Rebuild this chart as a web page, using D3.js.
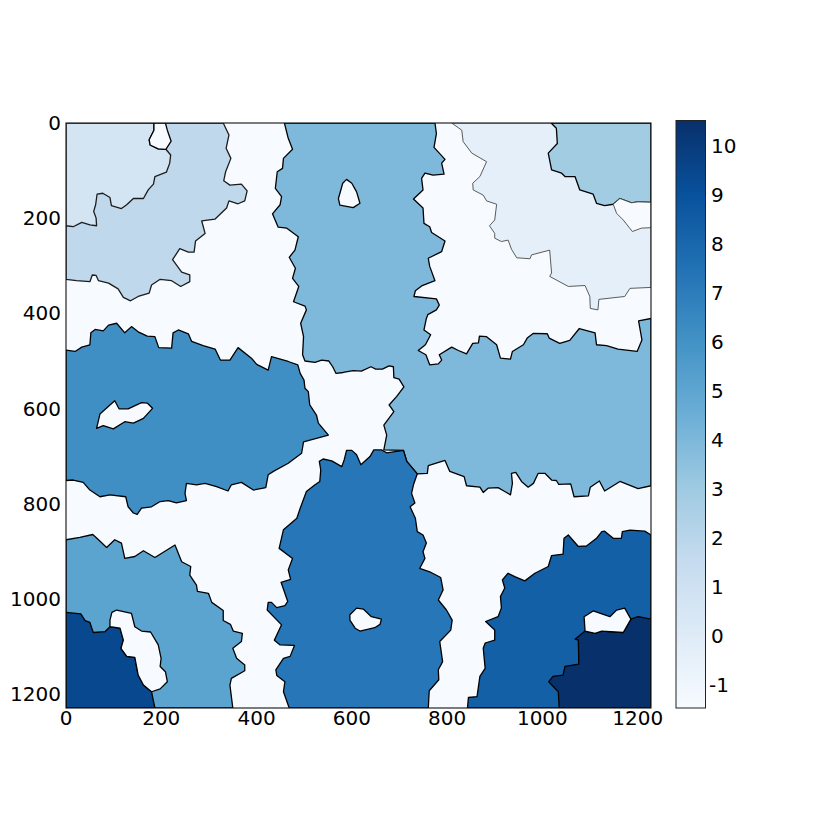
<!DOCTYPE html>
<html><head><meta charset="utf-8">
<script src="https://cdn.jsdelivr.net/npm/d3@7"></script>
<style>html,body{margin:0;padding:0;background:#fff}svg{display:block}text{font-family:"DejaVu Sans";fill:#000}</style>
</head><body><svg id="c" width="830" height="830"></svg>
<script>
const xTicks=[0,200,400,600,800,1000,1200];
const yTicks=[0,200,400,600,800,1000,1200];
const barTicks=[-1,0,1,2,3,4,5,6,7,8,9,10];
const blues=["#f7fbff","#deebf7","#c6dbef","#9ecae1","#6baed6","#4292c6","#2171b5","#08519c","#08306b"];

const region2=[[0,0],[329,0],[341,25],[335,53],[345,74],[334,102],[330,121],[343,130],[367,128],[379,142],[374,163],[360,169],[341,163],[336,178],[312,201],[284,205],[291,231],[271,247],[268,270],[256,270],[238,263],[223,286],[242,312],[259,318],[259,332],[240,342],[221,330],[197,327],[179,339],[174,356],[151,363],[135,372],[120,365],[109,347],[89,335],[68,330],[63,319],[55,318],[50,332],[22,330],[0,327]];
const region1=[[0,215],[15,217],[33,208],[50,213],[64,215],[63,199],[58,185],[62,171],[65,149],[77,147],[92,156],[95,173],[116,179],[127,171],[141,158],[162,158],[172,140],[183,128],[186,112],[210,103],[217,84],[219,67],[209,55],[193,54],[176,46],[174,35],[184,15],[184,0],[0,0]];
const gap1=[[184,0],[184,15],[174,35],[176,46],[193,54],[209,55],[220,38],[212,15],[208,0]];
const region4=[[457,0],[465,32],[474,55],[455,74],[453,95],[442,102],[438,137],[451,154],[448,171],[432,190],[444,218],[462,220],[486,238],[479,266],[467,281],[480,304],[474,325],[487,342],[476,374],[500,383],[503,391],[491,419],[497,447],[495,485],[500,498],[521,501],[535,496],[550,498],[558,510],[565,524],[580,522],[601,518],[618,519],[638,510],[648,515],[662,515],[676,508],[685,510],[686,533],[697,536],[707,552],[692,572],[676,590],[686,604],[665,632],[671,653],[665,684],[706,685],[713,708],[735,734],[756,733],[758,717],[793,706],[803,729],[833,740],[838,759],[866,762],[873,773],[883,764],[904,763],[918,771],[930,778],[934,754],[932,733],[941,731],[953,750],[967,762],[978,754],[988,733],[1002,733],[1016,747],[1026,748],[1031,756],[1056,755],[1063,782],[1093,780],[1097,762],[1116,749],[1127,770],[1159,750],[1197,765],[1224,759],[1224,409],[1198,414],[1205,454],[1195,478],[1155,473],[1131,466],[1110,464],[1107,439],[1074,430],[1054,455],[1033,461],[1011,450],[1007,441],[978,440],[965,450],[957,464],[934,478],[930,494],[909,492],[901,464],[880,447],[865,446],[863,460],[851,461],[838,483],[821,476],[807,469],[781,485],[786,496],[779,504],[761,506],[753,485],[737,476],[752,464],[763,443],[749,433],[754,409],[757,401],[775,391],[781,381],[775,368],[728,363],[731,351],[744,341],[772,330],[761,300],[758,283],[786,269],[793,247],[765,229],[761,217],[749,210],[747,178],[727,159],[747,140],[744,116],[751,105],[768,109],[791,107],[786,84],[793,76],[770,51],[775,22],[772,0]];
const gap4=[[587,118],[598,126],[608,144],[615,168],[601,177],[573,172],[570,158],[579,126]];
const region0=[[807,0],[828,15],[831,39],[849,63],[880,81],[866,112],[851,126],[852,140],[873,151],[880,163],[901,170],[897,203],[886,215],[897,231],[897,241],[911,248],[925,245],[932,264],[943,282],[971,284],[974,276],[1012,266],[1016,314],[1012,321],[1051,342],[1086,340],[1096,363],[1097,388],[1113,391],[1115,369],[1169,363],[1180,346],[1224,344],[1224,0]];
const region3=[[1015,0],[1026,11],[1028,43],[1009,63],[1016,98],[1037,105],[1044,112],[1065,112],[1075,140],[1103,149],[1110,168],[1127,173],[1145,170],[1159,158],[1183,167],[1197,165],[1224,166],[1224,0]];
const gap3=[[1145,170],[1152,189],[1166,203],[1185,227],[1204,220],[1224,219],[1224,166],[1197,165],[1183,167],[1159,158]];
const region6=[[0,475],[19,478],[33,469],[50,464],[52,439],[61,432],[78,435],[89,423],[106,419],[123,439],[137,426],[151,437],[170,446],[186,447],[194,470],[221,471],[224,439],[235,433],[256,441],[263,457],[287,466],[312,473],[323,496],[343,496],[360,470],[388,492],[399,505],[423,517],[430,489],[441,492],[465,499],[485,506],[490,524],[498,538],[500,555],[507,562],[510,590],[524,611],[528,628],[549,653],[497,667],[493,691],[465,712],[434,729],[423,736],[418,763],[392,768],[367,752],[346,757],[339,770],[315,761],[291,754],[273,757],[252,754],[249,775],[252,790],[231,795],[214,790],[197,792],[179,803],[158,806],[149,819],[141,816],[130,803],[125,782],[92,778],[71,782],[50,768],[36,752],[15,747],[0,748]];
const gap6=[[64,639],[71,609],[102,581],[111,598],[130,598],[158,585],[170,586],[181,597],[162,618],[141,628],[123,625],[99,640],[78,633]];
const region5=[[0,872],[29,867],[56,861],[68,872],[85,888],[102,872],[116,879],[123,911],[144,907],[162,895],[186,909],[228,883],[242,918],[261,928],[259,946],[273,967],[275,980],[298,984],[305,1003],[329,1020],[329,1041],[344,1049],[350,1063],[369,1068],[367,1085],[349,1099],[357,1120],[374,1134],[374,1146],[346,1162],[343,1176],[349,1224],[186,1224],[0,1224]];
const region9=[[0,1024],[31,1027],[40,1041],[50,1045],[57,1066],[82,1064],[92,1054],[113,1057],[120,1082],[115,1099],[127,1116],[144,1118],[151,1155],[162,1176],[179,1190],[181,1200],[186,1224],[0,1224]];
const gap9=[[92,1040],[96,1024],[106,1019],[137,1026],[144,1054],[158,1063],[177,1065],[193,1092],[199,1120],[197,1137],[208,1148],[212,1169],[197,1184],[179,1190],[162,1176],[151,1155],[144,1118],[127,1116],[115,1099],[120,1082],[113,1057],[92,1054]];
const region7=[[490,806],[503,771],[521,757],[531,750],[533,726],[530,708],[538,703],[556,707],[577,719],[582,705],[587,685],[598,685],[608,694],[617,715],[636,698],[644,684],[660,684],[671,690],[706,685],[713,708],[735,734],[727,757],[723,775],[730,795],[720,803],[731,827],[735,855],[747,862],[754,879],[747,897],[751,911],[740,932],[761,939],[784,951],[789,977],[779,998],[796,1019],[808,1040],[805,1061],[782,1085],[788,1127],[779,1144],[780,1165],[760,1188],[758,1224],[467,1224],[455,1190],[458,1169],[441,1156],[439,1144],[455,1120],[469,1116],[478,1093],[448,1092],[436,1082],[451,1050],[421,1019],[423,1003],[430,1003],[441,1014],[458,1010],[464,1001],[450,961],[470,955],[465,935],[474,911],[446,890],[455,851],[483,827]];
const gap7=[[594,1029],[608,1015],[622,1017],[639,1033],[660,1038],[657,1049],[646,1056],[615,1063],[605,1057],[594,1040]];
const region8=[[840,1224],[842,1202],[860,1200],[866,1158],[877,1141],[873,1099],[877,1088],[897,1082],[897,1061],[878,1043],[904,1033],[911,1015],[909,991],[918,973],[913,956],[925,942],[939,949],[960,958],[981,942],[1009,928],[1016,905],[1040,902],[1042,869],[1051,862],[1072,886],[1089,885],[1110,869],[1121,855],[1127,854],[1145,869],[1162,869],[1164,855],[1180,852],[1211,854],[1224,862],[1224,1224]];
const region10=[[1032,1224],[1030,1190],[1010,1169],[1019,1158],[1040,1155],[1044,1137],[1073,1132],[1072,1082],[1065,1080],[1086,1063],[1107,1068],[1121,1063],[1166,1066],[1182,1038],[1197,1033],[1224,1038],[1224,1224]];
const gap8=[[1086,1063],[1084,1033],[1103,1021],[1138,1033],[1152,1019],[1169,1015],[1182,1038],[1166,1066],[1121,1063],[1107,1068]];

const layers=[
 {label:2,ring:region2},{label:1,ring:region1},{label:-1,ring:gap1},
 {label:0,ring:region0},{label:3,ring:region3},{label:-1,ring:gap3,thin:true},
 {label:4,ring:region4},{label:-1,ring:gap4},
 {label:6,ring:region6},{label:-1,ring:gap6},
 {label:5,ring:region5},{label:9,ring:region9},{label:-1,ring:gap9},
 {label:7,ring:region7},{label:-1,ring:gap7},
 {label:8,ring:region8},{label:10,ring:region10},{label:-1,ring:gap8}
];

const svg=d3.select("#c");
const L=66,R=651,T=123,B=708;
// shapes were read against the frame (0..1224); tick labels follow the slightly wider image extent
const x=d3.scaleLinear().domain([0,1224]).range([L,R]);
const y=d3.scaleLinear().domain([0,1224]).range([T,B]);
const xAxisScale=d3.scaleLinear().domain([0,1228]).range([L,R]);
const yAxisScale=d3.scaleLinear().domain([0,1229]).range([T,B]);
const ramp=d3.scaleLinear().domain(blues.map((_,i)=>i/(blues.length-1))).range(blues).interpolate(d3.interpolateRgb);
const labelColor=v=>ramp((v+1)/11);

const defs=svg.append("defs");
defs.append("clipPath").attr("id","plot").append("rect").attr("x",L).attr("y",T).attr("width",R-L).attr("height",B-T);
const grad=defs.append("linearGradient").attr("id","bar").attr("x1",0).attr("y1",1).attr("x2",0).attr("y2",0);
grad.selectAll("stop").data(blues).join("stop").attr("offset",(d,i)=>i/(blues.length-1)).attr("stop-color",d=>d);

const g=svg.append("g").attr("clip-path","url(#plot)");
g.append("rect").attr("x",L).attr("y",T).attr("width",R-L).attr("height",B-T).attr("fill",labelColor(-1));
const line=d3.line().x(d=>x(d[0])).y(d=>y(d[1])).curve(d3.curveLinearClosed);
g.selectAll("path").data(layers).join("path")
 .attr("d",d=>line(d.ring))
 .attr("fill",d=>labelColor(d.label))
 .attr("stroke",d=>(d.label===0||d.thin)?"#4a4a4a":(d.label===1||d.label===2)?"#1c1c1c":"#000")
 .attr("stroke-width",d=>(d.label===0||d.thin)?0.9:1.3)
 .attr("stroke-linejoin","round");

svg.append("rect").attr("x",L).attr("y",T).attr("width",R-L).attr("height",B-T).attr("fill","none").attr("stroke","#111").attr("stroke-width",1.1);

const fs=20;
svg.append("g").selectAll("text").data(xTicks).join("text")
 .attr("x",d=>xAxisScale(d)).attr("y",725).attr("text-anchor","middle").attr("font-size",fs).text(d=>d);
svg.append("g").selectAll("text").data(yTicks).join("text")
 .attr("x",61).attr("y",d=>yAxisScale(d)+7).attr("text-anchor","end").attr("font-size",fs).text(d=>d);

// colour bar
const bL=676,bR=705.5,bT=120.5,bB=708;
const bar=d3.scaleLinear().domain([-1.5,10.5]).range([bB,bT]);
svg.append("rect").attr("x",bL).attr("y",bT).attr("width",bR-bL).attr("height",bB-bT).attr("fill","url(#bar)").attr("stroke","#222").attr("stroke-width",1);
svg.append("g").selectAll("text").data(barTicks).join("text")
 .attr("x",d=>d<0?709:711).attr("y",d=>bar(d)+8).attr("font-size",fs).text(d=>d);
</script></body></html>
